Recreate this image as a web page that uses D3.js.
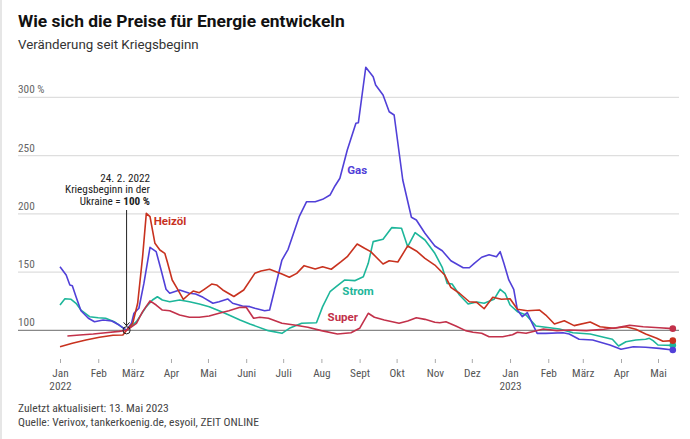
<!DOCTYPE html>
<html><head><meta charset="utf-8">
<script src="https://cdn.jsdelivr.net/npm/d3@7"></script>
<style>
body{margin:0;background:#fff;}
svg{display:block;}
.cond{font-family:"Roboto Condensed","DejaVu Sans Condensed","Liberation Sans Narrow","Roboto",sans-serif;}
</style></head>
<body><svg id="c" width="690" height="439"></svg>
<script>
const title = "Wie sich die Preise für Energie entwickeln";
const subtitle = "Veränderung seit Kriegsbeginn";
const yTicks = [100, 150, 200, 250, 300];
const monthLabels = ["Jan","Feb","März","Apr","Mai","Juni","Juli","Aug","Sept","Okt","Nov","Dez","Jan","Feb","März","Apr","Mai"];
const monthDates = ["2022-01-01","2022-02-01","2022-03-01","2022-04-01","2022-05-01","2022-06-01","2022-07-01","2022-08-01","2022-09-01","2022-10-01","2022-11-01","2022-12-01","2023-01-01","2023-02-01","2023-03-01","2023-04-01","2023-05-01"];
const footer1 = "Zuletzt aktualisiert: 13. Mai 2023";
const footer2 = "Quelle: Verivox, tankerkoenig.de, esyoil, ZEIT ONLINE";
const annotationLines = ["24. 2. 2022", "Kriegsbeginn in der", "Ukraine = "];
const annotationBold = "100 %";

const gas = [["2022-01-01",154.6],["2022-01-06",147.5],["2022-01-09",138.9],["2022-01-11",138.3],["2022-01-14",128.8],["2022-01-18",116.8],["2022-01-24",110.3],["2022-01-29",107.4],["2022-02-05",108.8],["2022-02-12",108],["2022-02-18",104.5],["2022-02-24",100],["2022-02-28",106],["2022-03-02",114.6],["2022-03-06",118.9],["2022-03-10",140],["2022-03-15",171.2],["2022-03-20",167.5],["2022-03-24",151.8],["2022-03-28",135.2],["2022-03-31",131.8],["2022-04-08",134.6],["2022-04-16",131.8],["2022-04-21",131.2],["2022-04-27",128.3],["2022-05-05",123.2],["2022-05-10",124.5],["2022-05-17",126.9],["2022-05-21",123.2],["2022-05-29",120.9],["2022-06-04",120.3],["2022-06-08",118.9],["2022-06-16",116.8],["2022-06-20",117.4],["2022-06-24",134.6],["2022-06-30",160.3],["2022-07-05",169.5],["2022-07-14",197.5],["2022-07-20",210.4],["2022-07-27",210.4],["2022-08-02",212.4],["2022-08-08",216.1],["2022-08-12",223.9],["2022-08-16",230.5],["2022-08-22",254.8],["2022-08-29",277.7],["2022-08-31",278.2],["2022-09-06",325.8],["2022-09-12",317.7],["2022-09-14",310.6],["2022-09-20",302],["2022-09-25",287.6],["2022-09-29",284.8],["2022-10-06",229],["2022-10-13",197],["2022-10-17",194.7],["2022-10-24",183.3],["2022-11-01",172.4],["2022-11-07",168.3],["2022-11-14",159.7],["2022-11-24",153.7],["2022-11-29",153.7],["2022-12-03",157.5],["2022-12-09",162.7],["2022-12-15",164.9],["2022-12-21",163.2],["2022-12-24",167.5],["2022-12-27",157.5],["2022-12-31",143.2],["2023-01-04",135.2],["2023-01-07",117.4],["2023-01-11",111.7],["2023-01-15",115.1],["2023-01-19",106],["2023-01-23",97.4],["2023-01-30",97.4],["2023-02-13",97.9],["2023-02-18",96.8],["2023-02-26",92.3],["2023-03-09",91.7],["2023-03-23",87.4],["2023-04-01",83.7],["2023-04-11",85.9],["2023-04-21",85.4],["2023-05-02",84.5],["2023-05-13",83.1]];

const heizoel = [["2022-01-01",85.9],["2022-01-11",88.8],["2022-01-22",91.7],["2022-02-02",94],["2022-02-13",95.7],["2022-02-21",96],["2022-02-24",100],["2022-03-01",106],["2022-03-05",123.2],["2022-03-09",163.2],["2022-03-12",200.4],["2022-03-15",197.5],["2022-03-19",174.7],["2022-03-23",168.9],["2022-03-27",166.1],["2022-03-29",158.9],["2022-04-02",143.2],["2022-04-06",136],["2022-04-11",126.6],["2022-04-15",130.3],["2022-04-19",133.7],["2022-04-24",132.3],["2022-04-28",135.2],["2022-05-04",139.7],["2022-05-08",138.9],["2022-05-13",134.6],["2022-05-22",129],["2022-05-30",134.6],["2022-06-08",148.9],["2022-06-13",150.9],["2022-06-20",152.4],["2022-06-30",148.3],["2022-07-06",145.5],["2022-07-12",148.9],["2022-07-18",155.5],["2022-07-27",152.6],["2022-08-02",154.6],["2022-08-09",152.4],["2022-08-17",158.9],["2022-08-22",163.2],["2022-08-30",174.1],["2022-09-05",170.4],["2022-09-10",167.5],["2022-09-20",156.9],["2022-09-25",159.7],["2022-10-02",158.6],["2022-10-10",172.4],["2022-10-17",168.1],["2022-10-24",161.8],["2022-11-01",156],["2022-11-09",147.5],["2022-11-14",136.9],["2022-11-21",131.8],["2022-11-29",124.5],["2022-12-05",124],["2022-12-11",118.5],["2022-12-18",128.3],["2022-12-25",126.6],["2023-01-01",127.1],["2023-01-07",118],["2023-01-15",116.8],["2023-01-25",117.4],["2023-01-30",113.1],["2023-02-06",105.4],["2023-02-14",108.2],["2023-02-22",104],["2023-03-07",107.1],["2023-03-15",103.1],["2023-03-26",101.7],["2023-04-05",103.1],["2023-04-13",100.9],["2023-04-21",96.8],["2023-04-30",93.1],["2023-05-05",90.6],["2023-05-13",91.1]];

const strom = [["2022-01-01",121.7],["2022-01-05",127.1],["2022-01-10",126.6],["2022-01-14",123.2],["2022-01-18",117.4],["2022-01-25",111.7],["2022-02-01",110.8],["2022-02-07",110.3],["2022-02-14",107.4],["2022-02-24",100],["2022-03-04",107.4],["2022-03-12",120.3],["2022-03-17",126],["2022-03-21",128.8],["2022-03-25",126],["2022-03-31",124.5],["2022-04-08",126],["2022-04-16",124.5],["2022-04-24",122.6],["2022-05-02",120.3],["2022-05-10",116.8],["2022-05-18",113.1],["2022-05-27",108.8],["2022-06-04",105.4],["2022-06-19",99.7],["2022-06-30",97.4],["2022-07-06",101.7],["2022-07-16",106],["2022-07-28",106.5],["2022-08-02",120.3],["2022-08-08",133.1],["2022-08-13",137.4],["2022-08-20",143.2],["2022-08-28",142.6],["2022-09-04",146],["2022-09-08",157.5],["2022-09-12",176.1],["2022-09-20",178.1],["2022-09-27",188.1],["2022-10-05",187.6],["2022-10-10",171.8],["2022-10-16",183.8],["2022-10-24",177.5],["2022-11-01",166.1],["2022-11-07",154.1],["2022-11-11",140.3],["2022-11-15",139.7],["2022-11-21",130.3],["2022-11-28",122.6],["2022-12-05",124.3],["2022-12-11",123.2],["2022-12-19",126.6],["2022-12-24",135.2],["2022-12-28",131.8],["2023-01-01",121.7],["2023-01-07",116],["2023-01-14",113.1],["2023-01-22",103.7],["2023-01-30",102.6],["2023-02-10",101.1],["2023-02-21",97.9],["2023-03-07",96.8],["2023-03-18",94],["2023-03-25",92.3],["2023-03-30",86.5],["2023-04-05",90.2],["2023-04-13",91.7],["2023-04-21",92.3],["2023-04-24",93.1],["2023-04-27",91.1],["2023-05-01",87.4],["2023-05-13",87.1]];

const superB = [["2022-01-07",95.1],["2022-01-17",96],["2022-01-28",96.8],["2022-02-07",97.9],["2022-02-18",99.1],["2022-02-24",100],["2022-03-04",106],["2022-03-09",116],["2022-03-15",125.2],["2022-03-20",121.7],["2022-03-25",117.4],["2022-03-31",116.8],["2022-04-08",113.1],["2022-04-16",111.2],["2022-04-24",111.2],["2022-05-02",112.3],["2022-05-10",114.6],["2022-05-18",116.8],["2022-05-27",119.7],["2022-06-01",119.8],["2022-06-07",110.3],["2022-06-12",111.2],["2022-06-19",110.3],["2022-06-30",106],["2022-07-10",104.5],["2022-07-21",102.6],["2022-08-01",99.7],["2022-08-14",96.8],["2022-08-25",97.9],["2022-09-01",101.7],["2022-09-08",114.6],["2022-09-13",111.2],["2022-09-21",108.8],["2022-10-03",106],["2022-10-10",108],["2022-10-17",110.8],["2022-10-24",109.4],["2022-11-01",106.9],["2022-11-05",106.5],["2022-11-10",107.4],["2022-11-18",103.7],["2022-11-26",99.7],["2022-12-02",98.3],["2022-12-09",97.4],["2022-12-15",94.5],["2022-12-26",94.5],["2023-01-03",96.2],["2023-01-07",98.3],["2023-01-14",97.4],["2023-01-19",98.8],["2023-01-28",101.1],["2023-02-08",99.7],["2023-02-18",100.3],["2023-03-04",99.7],["2023-03-18",100.9],["2023-03-28",102.2],["2023-04-08",104.3],["2023-04-19",103.1],["2023-05-02",102.2],["2023-05-13",101.4]];

const seriesNames = ["Super","Heizöl","Strom","Gas"];
const seriesData = [superB, heizoel, strom, gas];
const seriesColors = ["#c2314a","#c8321f","#1db69a","#5140d8"];

const parse = d3.timeParse("%Y-%m-%d");
const svg = d3.select("#c");

// left border
svg.append("rect").attr("x",0).attr("y",0).attr("width",2).attr("height",439).attr("fill","#e6e6e6");

const x = d3.scaleTime().domain([parse("2022-01-01"), parse("2023-05-01")]).range([60, 658]);
const y = d3.scaleLinear().domain([100, 300]).range([330.3, 97.3]);

// title
svg.append("text").attr("x",18).attr("y",27).attr("font-family","Roboto, sans-serif").attr("font-weight",700)
  .attr("font-size",17.4).attr("fill","#111").text(title);
svg.append("text").attr("x",18).attr("y",49).attr("font-family","Roboto, sans-serif")
  .attr("font-size",13.3).attr("fill","#333").text(subtitle);

// gridlines
const grid = svg.append("g");
grid.selectAll("line").data(yTicks).join("line")
  .attr("x1",18).attr("x2",679).attr("y1",d=>y(d)).attr("y2",d=>y(d))
  .attr("stroke",d=>d===100?"#888":"#dedede").attr("stroke-width",d=>d===100?1.2:1.3);
grid.selectAll("text").data(yTicks).join("text").attr("class","cond")
  .attr("x",18).attr("y",d=>y(d)-4).attr("font-size",11.3).attr("fill","#666")
  .text(d=>d===300?d+" %":d);

// x axis
const xAxis = d3.axisBottom(x).tickValues(monthDates.map(parse)).tickSize(4).tickPadding(6)
  .tickFormat((d,i)=>monthLabels[i]);
const ax = svg.append("g").attr("transform","translate(0,359)").call(xAxis);
ax.select(".domain").remove();
ax.selectAll(".tick line").attr("stroke","#aaa");
ax.selectAll(".tick text").attr("class","cond").attr("font-size",11.3).attr("fill","#555").attr("font-family",null);
ax.selectAll(".tick text").each(function(d,i){
  if(monthLabels[i]==="Jan"){
    d3.select(this).append("tspan").attr("x",0).attr("dy","1.12em").text(d.getFullYear());
  }
});

// lines
const line = d3.line().x(d=>x(parse(d[0]))).y(d=>y(d[1]));
const order = [2,3,1,0];
order.forEach(i=>{
  svg.append("path").datum(seriesData[i]).attr("d",line).attr("fill","none")
    .attr("stroke",seriesColors[i]).attr("stroke-width",1.6).attr("stroke-linejoin","round");
});
order.forEach(i=>{
  const last = seriesData[i][seriesData[i].length-1];
  svg.append("circle").attr("cx",x(parse(last[0]))).attr("cy",y(last[1])).attr("r",3.3).attr("fill",seriesColors[i]);
});

// series labels
const labelPos = [["2022-08-06",317],["2022-03-18",221],["2022-08-18",291],["2022-08-22",170]];
seriesNames.forEach((n,i)=>{
  svg.append("text").attr("x",x(parse(labelPos[i][0]))).attr("y",labelPos[i][1]+4)
    .attr("font-family","Roboto, sans-serif").attr("font-weight",700).attr("font-size",11.5)
    .attr("fill",seriesColors[i]).text(n);
});

// annotation
const ax0 = x(parse("2022-02-24")), ay0 = y(100);
svg.append("line").attr("x1",ax0).attr("x2",ax0).attr("y1",210).attr("y2",ay0-4).attr("stroke","#222").attr("stroke-width",1);
svg.append("path").attr("d",`M${ax0-3},${ay0-8} L${ax0},${ay0-4.5} L${ax0+3},${ay0-8}`).attr("fill","none").attr("stroke","#222").attr("stroke-width",1);
svg.append("circle").attr("cx",ax0).attr("cy",ay0).attr("r",3.6).attr("fill","none").attr("stroke","#222").attr("stroke-width",1);
const annY = [181.5, 193, 204.5];
annotationLines.forEach((t,i)=>{
  const el = svg.append("text").attr("class","cond").attr("text-anchor","end").attr("font-size",11.2).attr("fill","#222")
    .attr("x",150).attr("y",annY[i]);
  el.append("tspan").text(t);
  if(i===2) el.append("tspan").attr("font-weight",700).text(annotationBold);
});

// footer
svg.append("text").attr("class","cond").attr("x",18).attr("y",412).attr("font-size",11.6).attr("fill","#444").text(footer1);
svg.append("text").attr("class","cond").attr("x",18).attr("y",425.5).attr("font-size",11.6).attr("fill","#444").text(footer2);
</script></body></html>
